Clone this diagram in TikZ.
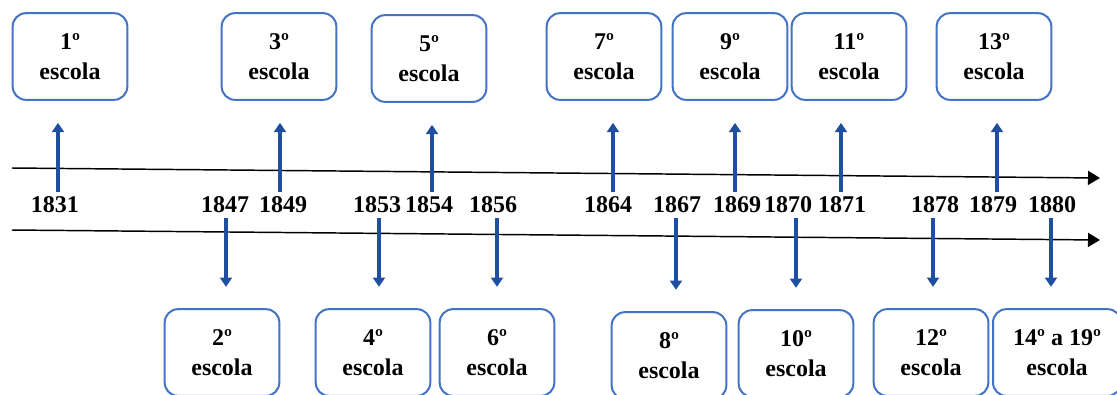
\documentclass[tikz,border=0pt]{standalone}
\usepackage{fontspec}
\setmainfont{Liberation Serif}
\usetikzlibrary{arrows.meta}
\definecolor{azulcaixa}{HTML}{4472C4}
\definecolor{azulseta}{HTML}{1F4FA0}

\begin{document}
\begin{tikzpicture}[x=0.75pt,y=-0.75pt,
    font=\fontsize{18}{22}\selectfont\bfseries,
    caixa/.style={draw=azulcaixa,line width=1.5pt,rounded corners=10pt,
      minimum width=86pt,minimum height=65pt,align=center,inner sep=0pt},
    linha/.style={line width=1.1pt,-{Triangle[width=10.5pt,length=9pt]}},
    seta/.style={azulseta,line width=3pt,-{Triangle[width=9pt,length=7pt]}}]
  \useasboundingbox (0,0) rectangle (1117,394);
  \clip (0,0) rectangle (1117,394);
  % Linhas do tempo
  \coordinate (l1a) at (12,168);
  \coordinate (l1b) at (1100,178);
  \coordinate (l2a) at (12,230);
  \coordinate (l2b) at (1100,240);
  \draw[linha] (l1a) -- (l1b);
  \draw[linha] (l2a) -- (l2b);
  % Anos
  \foreach \x/\ano in {55/1831,225/1847,283/1849,377/1853,429/1854,493/1856,
      608/1864,677/1867,737/1869,788/1870,842/1871,935/1878,993/1879,1052/1880}
    \node[inner sep=0pt] (y\ano) at (\x,205) {\ano};
  % Caixas de cima
  \foreach \n/\x/\y in {1/70/56.5,3/279/56.5,5/429/58.5,7/604/56.5,
      9/730/56.5,11/849/56.5,13/994/56.5}
    \node[caixa] (b\n) at (\x,\y) {\n º\\escola};
  % Caixas de baixo
  \foreach \n/\x/\y in {2/222/352.5,4/373/352.5,6/497/352.5,8/669/355.5,
      10/796/353.5,12/931/352.5}
    \node[caixa] (b\n) at (\x,\y) {\n º\\escola};
  \node[caixa,minimum width=96pt] (b14) at (1057,352.5) {14º a 19º\\escola};
  % Setas para cima
  \foreach \n/\x in {1/58,3/280,5/432,7/613,9/735,11/841,13/997} {
    \coordinate (p\n) at (\x,192);
    \draw[seta,shorten >=16.5pt] (p\n) -- (p\n |- b\n.south);
  }
  % Setas para baixo
  \foreach \n/\x in {2/226,4/379,6/497,8/676,10/796,12/933,14/1051} {
    \coordinate (p\n) at (\x,218);
    \draw[seta,shorten >=16pt] (p\n) -- (p\n |- b\n.north);
  }
\end{tikzpicture}
\end{document}
